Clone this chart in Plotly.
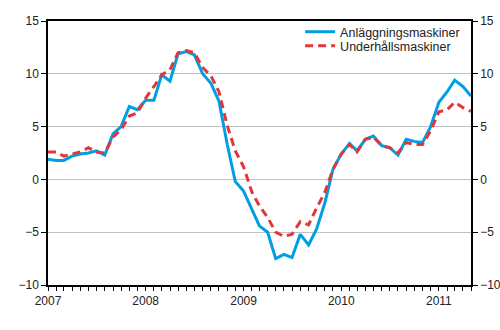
import plotly.graph_objects as go
import pandas as pd

months = pd.date_range("2007-01-01", "2011-05-01", freq="MS")

anlaggning = [1.9, 1.8, 1.8, 2.2, 2.4, 2.5, 2.7, 2.3, 4.3, 5.0, 6.9, 6.6,
              7.5, 7.5, 9.9, 9.3, 11.9, 12.1, 11.8, 10.0, 9.1, 7.4, 3.3, -0.2,
              -1.1, -2.8, -4.4, -5.0, -7.5, -7.1, -7.4, -5.2, -6.2, -4.7, -2.2, 0.95,
              2.4, 3.4, 2.7, 3.8, 4.1, 3.2, 3.0, 2.3, 3.8, 3.6, 3.5, 5.0,
              7.3, 8.3, 9.4, 8.8, 7.9]
underhall = [2.6, 2.6, 2.2, 2.4, 2.6, 3.0, 2.6, 2.5, 4.0, 4.7, 6.0, 6.3,
             7.7, 8.8, 9.9, 10.4, 12.0, 12.2, 12.0, 10.6, 9.8, 8.3, 5.1, 2.7,
             1.2, -1.2, -2.5, -3.6, -5.0, -5.4, -5.2, -4.0, -4.3, -2.7, -1.2, 0.95,
             2.4, 3.3, 2.6, 3.8, 4.0, 3.2, 3.0, 2.5, 3.5, 3.3, 3.3, 4.6,
             6.4, 6.6, 7.3, 6.8, 6.45]

series_names = ["Anläggningsmaskiner", "Underhållsmaskiner"]
y_ticks = [-10, -5, 0, 5, 10, 15]

font = "Liberation Sans, Arial, sans-serif"

fig = go.Figure()
fig.add_trace(go.Scatter(x=months, y=anlaggning, name=series_names[0], mode="lines",
                         line=dict(color="#009fe3", width=3), legend="legend"))
fig.add_trace(go.Scatter(x=months, y=underhall, name=series_names[1], mode="lines",
                         line=dict(color="#e0373a", width=3, dash="8px,5px"),
                         yaxis="y2", legend="legend2"))

leg_common = dict(xanchor="left", yanchor="middle", bgcolor="rgba(0,0,0,0)",
                  font=dict(size=12.5, color="#222"), itemwidth=30)

fig.update_layout(
    width=500, height=330,
    margin=dict(l=48, r=29, t=21, b=45, autoexpand=False),
    paper_bgcolor="white", plot_bgcolor="white",
    font=dict(family=font, size=12, color="#222"),
    showlegend=True,
    legend=dict(x=0.596, y=0.958, **leg_common),
    legend2=dict(x=0.596, y=0.905, **leg_common),
    xaxis=dict(range=[months[0], months[-1]], dtick="M12", tickformat="%Y",
               ticks="outside", ticklen=4, tickcolor="black", automargin=False,
               minor=dict(dtick="M1", ticks="outside", ticklen=4, tickcolor="black"),
               showline=True, linecolor="black", linewidth=1.5, mirror=True,
               showgrid=False, zeroline=False, tickfont=dict(size=12, color="#222")),
    yaxis=dict(range=[-10, 15], tickvals=y_ticks, ticks="outside", ticklen=5,
               tickcolor="black", showline=True, linecolor="black", linewidth=1.5,
               mirror=True, showgrid=True, gridcolor="#c0c0c0", gridwidth=1,
               zeroline=True, zerolinecolor="#c0c0c0", zerolinewidth=1, automargin=False,
               tickfont=dict(size=12, color="#222")),
    yaxis2=dict(range=[-10, 15], tickvals=y_ticks, overlaying="y", side="right",
                ticks="outside", ticklen=5, tickcolor="black", showline=True,
                linecolor="black", linewidth=1.5, showgrid=False, zeroline=False,
                automargin=False, tickfont=dict(size=12, color="#222")),
)

fig.write_html("out.html")
